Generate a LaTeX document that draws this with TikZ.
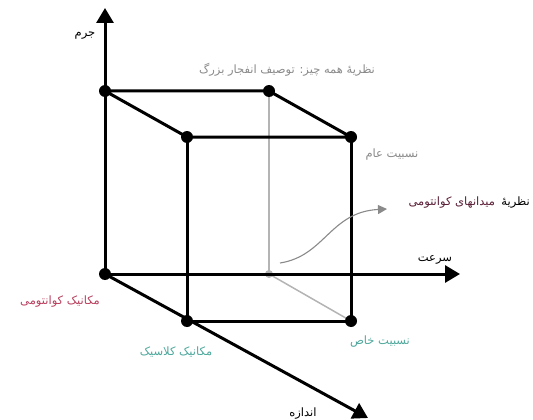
\documentclass[tikz,border=0pt]{standalone}
\usepackage{fontspec}
\newfontfamily\arabicfont[Script=Arabic]{DejaVu Sans}
\TeXXeTstate=1
\usetikzlibrary{arrows.meta}
\definecolor{labgray}{HTML}{8A8A8A}
\definecolor{teallab}{HTML}{4FA89C}
\definecolor{crimlab}{HTML}{B8405E}
\definecolor{maroonlab}{HTML}{5A1E36}
\definecolor{edgegray}{HTML}{B4B4B4}
\newcommand{\fa}[1]{{\arabicfont\beginR #1\endR}}
\tikzset{
  vtx/.style={circle,fill=black,inner sep=0pt,minimum size=12pt},
  gvtx/.style={circle,fill=edgegray,inner sep=0pt,minimum size=8pt},
  edge/.style={line width=3pt},
  gedge/.style={line width=1.5pt,draw=edgegray},
  axis/.style={line width=3pt,-{Triangle[width=17pt,length=15pt]}},
  lab/.style={inner sep=1pt,font=\fontsize{11.5}{13}\selectfont},
}
\begin{document}
\begin{tikzpicture}[x=1pt,y=-1pt]
\useasboundingbox (0,0) rectangle (533,420);
% vertices
\coordinate (ytip) at (105,8);
\coordinate (xtip) at (460,274);
\coordinate (ztip) at (368,418);
\node[gvtx] (E) at (269,274) {};
% gray hidden edges
\draw[gedge] (E.center) -- (269,91);
\draw[gedge] (E.center) -- (351,321);
% axes
\draw[axis] (105,274) -- (ytip);
\draw[axis] (105,274) -- (xtip);
\draw[axis] (105,274) -- (ztip);
% cube
\node[vtx] (O) at (105,274) {};
\node[vtx] (A) at (105,91) {};
\node[vtx] (B) at (269,91) {};
\node[vtx] (C) at (187,137) {};
\node[vtx] (D) at (351,137) {};
\node[vtx] (F) at (187,321) {};
\node[vtx] (G) at (351,321) {};
\draw[edge] (A.center) -- (B.center) -- (D.center) -- (C.center) -- cycle;
\draw[edge] (C.center) -- (F.center) -- (G.center) -- (D.center);
% curved arrow
\coordinate (cs) at (280,263);
\coordinate (ce) at (387,209);
\draw[line width=1.1pt,draw=labgray,-{Triangle[width=9pt,length=9pt]}] (cs) .. controls (325,256) and (330,212) .. (ce);
% labels
\node[lab] (lm) at (85,36) {\fa{جرم}};
\node[lab,text=labgray] (lt) at (287,70) {\fa{نظریهٔ همه چیز: توصیف انفجار بزرگ}};
\node[lab,text=labgray] (lg) at (392,155) {\fa{نسبیت عام}};
\node[lab,anchor=east] (lq1) at (531,203) {\fa{نظریهٔ}};
\node[lab,anchor=east,text=maroonlab] (lq2) at ([xshift=-4pt]lq1.west) {\fa{میدانهای کوانتومی}};
\node[lab] (lv) at (435,260) {\fa{سرعت}};
\node[lab,text=crimlab] (lqm) at (60,302) {\fa{مکانیک کوانتومی}};
\node[lab,text=teallab] (lcm) at (176,352) {\fa{مکانیک کلاسیک}};
\node[lab,text=teallab] (lsr) at (380,342) {\fa{نسبیت خاص}};
\node[lab] (ls) at (303,414) {\fa{اندازه}};
\end{tikzpicture}
\end{document}
